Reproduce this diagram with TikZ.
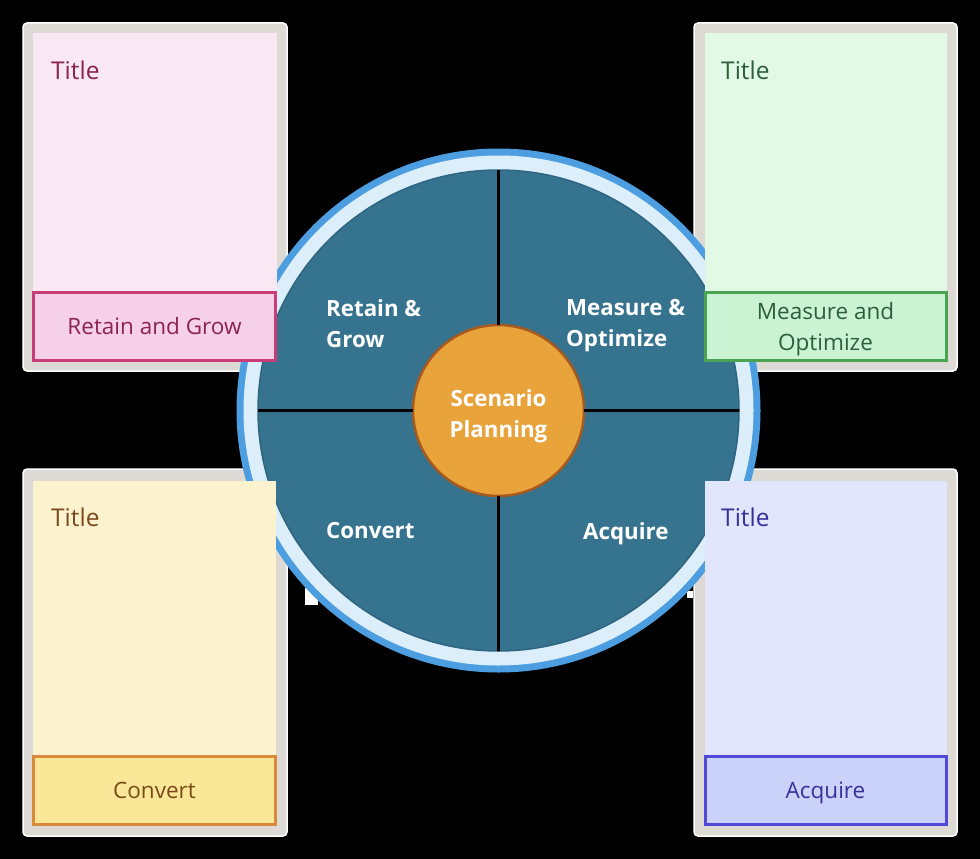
\documentclass[tikz,border=0pt]{standalone}
\usepackage{fontspec}
\setmainfont{Open Sans}
\definecolor{framegray}{HTML}{DDDAD5}
\definecolor{ringblue}{HTML}{4C9EE0}
\definecolor{ringlight}{HTML}{DDEEFB}
\definecolor{diskblue}{HTML}{36738E}
\definecolor{diskedge}{HTML}{2E6681}
\definecolor{hubfill}{HTML}{E8A33B}
\definecolor{hubdraw}{HTML}{A65A1F}
\definecolor{pinkfill}{HTML}{F9E7F3}
\definecolor{pinklabel}{HTML}{F6D0E7}
\definecolor{pinkdraw}{HTML}{C83C78}
\definecolor{pinktext}{HTML}{8A2350}
\definecolor{greenfill}{HTML}{E2FAE5}
\definecolor{greenlabel}{HTML}{C9F3D2}
\definecolor{greendraw}{HTML}{4AA351}
\definecolor{greentext}{HTML}{2D5E3C}
\definecolor{yellowfill}{HTML}{FCF2CD}
\definecolor{yellowlabel}{HTML}{FAE798}
\definecolor{yellowdraw}{HTML}{D98B3B}
\definecolor{yellowtext}{HTML}{7B4A1C}
\definecolor{lavfill}{HTML}{E1E6FC}
\definecolor{lavlabel}{HTML}{CAD2F9}
\definecolor{lavdraw}{HTML}{5048D8}
\definecolor{lavtext}{HTML}{37309A}
\tikzset{
  cardframe/.style={draw=white, line width=1.5pt, fill=framegray, rounded corners=4pt},
  panel/.style={draw=none, inner sep=0pt, outer sep=0pt, anchor=north west, minimum width=#1},
  labelbox/.style={line width=3pt, inner sep=0pt, outer sep=0pt, anchor=north west, minimum height=68pt,
    align=center, font=\fontsize{22.5}{31}\selectfont},
  cardtitle/.style={anchor=base west, inner sep=0pt, font=\fontsize{24.5}{30}\selectfont},
  disc/.style={circle, inner sep=0pt, outer sep=0pt},
  divider/.style={draw=black, line width=2.2pt},
  sector/.style={text=white, align=left, inner sep=0pt, font=\bfseries\fontsize{22.3}{31}\selectfont}
}
\begin{document}
\begin{tikzpicture}[x=1pt,y=-1pt]
\fill[black] (0,0) rectangle (980,859);
\useasboundingbox (0,0) rectangle (980,859);

% card frames
\draw[cardframe] (23,23) rectangle (287,371);
\draw[cardframe] (694,23) rectangle (957,371);
\draw[cardframe] (23,469) rectangle (287,836);
\draw[cardframe] (694,469) rectangle (957,836);
\fill[white] (305,588) rectangle (318,605);
\fill[white] (687,591) rectangle (693,598);

% wheel
\node[disc, fill=ringblue, minimum size=524pt] (ring) at (498.5,410.5) {};
\node[disc, fill=ringlight, minimum size=510pt] (band) at (ring.center) {};
\node[disc, fill=diskblue, draw=diskedge, line width=1.5pt, minimum size=481pt] (disk) at (ring.center) {};
\node[disc, fill=hubfill, draw=hubdraw, line width=2.5pt, minimum size=171pt] (hub) at (ring.center) {};
\node[sector, align=center] (hubtext) at (498.5,416.5) {Scenario\\Planning};
\draw[divider] (disk.north) -- (hub.north);
\draw[divider] (hub.south) -- (disk.south);
\draw[divider] (disk.west) -- (hub.west);
\draw[divider] (hub.east) -- (disk.east);

\node[sector, anchor=west] (sretain) at (326,323.5) {Retain \&\\Grow};
\node[sector, anchor=west] (smeasure) at (566,326) {Measure \&\\Optimize};
\node[sector, anchor=west] (sconvert) at (326,531) {Convert};
\node[sector, anchor=west] (sacquire) at (583,533.4) {Acquire};

% card bodies
\node[panel=244pt, fill=pinkfill, minimum height=259pt] (tlfill) at (33,33) {};
\node[panel=242pt, fill=greenfill, minimum height=259pt] (trfill) at (705,33) {};
\node[panel=243pt, fill=yellowfill, minimum height=275pt] (blfill) at (33,481) {};
\node[panel=242pt, fill=lavfill, minimum height=275pt] (brfill) at (705,481) {};

\node[cardtitle, text=pinktext] (tltitle) at (51,79) {Title};
\node[cardtitle, text=greentext] (trtitle) at (721,79) {Title};
\node[cardtitle, text=yellowtext] (bltitle) at (51,526) {Title};
\node[cardtitle, text=lavtext] (brtitle) at (721,526) {Title};

\node[labelbox, draw=pinkdraw, fill=pinklabel, text=pinktext, minimum width=242pt] (tllabel) at (33.5,292.5) {Retain and Grow};
\node[labelbox, draw=greendraw, fill=greenlabel, minimum width=241pt] (trlabel) at (705,292.5) {};
\node[labelbox, text=greentext] (trtext) at ([yshift=-3pt]trlabel.center) [anchor=center] {Measure and\\Optimize};
\node[labelbox, draw=yellowdraw, fill=yellowlabel, text=yellowtext, minimum width=242pt] (bllabel) at (33.5,756.5) {Convert};
\node[labelbox, draw=lavdraw, fill=lavlabel, text=lavtext, minimum width=241pt, text depth=0pt] (brlabel) at (705,756.5) {Acquire};
\end{tikzpicture}
\end{document}
